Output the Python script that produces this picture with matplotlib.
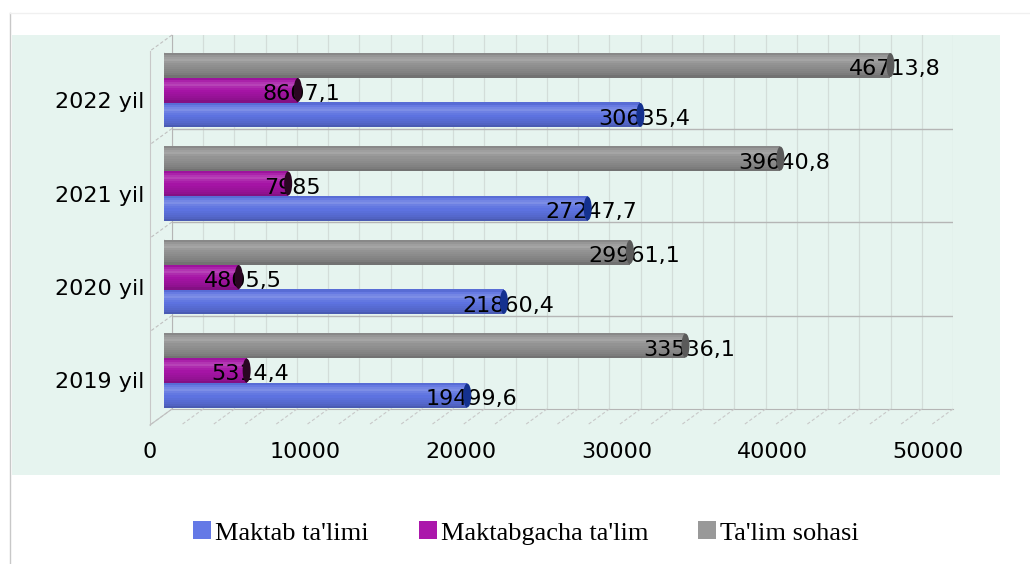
import matplotlib
matplotlib.use("Agg")
import matplotlib.pyplot as plt
import numpy as np
from matplotlib.lines import Line2D
from matplotlib.patches import Ellipse, Patch, Rectangle
from matplotlib.transforms import ScaledTranslation

# data (bottom to top)
years = ["2019 yil", "2020 yil", "2021 yil", "2022 yil"]
maktab = [19499.6, 21860.4, 27247.7, 30635.4]
maktabgacha = [5314.4, 4805.5, 7985.0, 8607.1]
talim = [33536.1, 29961.1, 39640.8, 46713.8]
series_names = ["Maktab ta'limi", "Maktabgacha ta'lim", "Ta'lim sohasi"]
x_ticks = [0, 10000, 20000, 30000, 40000, 50000]

bar_colors = ["#5d72e0", "#a514a5", "#8f8f8f"]
cap_colors = ["#14318f", "#2a0622", "#5a5a5a"]
legend_colors = ["#6479e6", "#ab17ab", "#999999"]
mint = "#e6f4ef"

W, H = 1030, 564
fig = plt.figure(figsize=(W / 100, H / 100), dpi=100)


def box(l, t, r, b):
    return [l / W, 1 - b / H, (r - l) / W, (b - t) / H]


def px_line(x0, y0, x1, y1, **kw):
    fig.add_artist(Line2D([x0 / W, x1 / W], [1 - y0 / H, 1 - y1 / H],
                          transform=fig.transFigure, **kw))


def shade(c, s):
    c = np.array(matplotlib.colors.to_rgb(c))
    if s >= 0:
        return tuple(c + (1 - c) * s)
    return tuple(c * (1 + s))


# background + frame
fig.add_artist(Rectangle((12 / W, 1 - 475 / H), 988 / W, 440 / H,
                         transform=fig.transFigure, facecolor=mint,
                         edgecolor="none", zorder=0))
px_line(10, 13, 10, 564, color="#c8c8c8", lw=1)
px_line(10, 13, 1030, 13, color="#f0f0f0", lw=1)

# back wall
ax_w = fig.add_axes(box(172, 35, 953, 409))
ax_w.set_facecolor("none")
ax_w.set_xlim(0, 50000)
ax_w.set_ylim(-0.5, 3.5)
ax_w.set_xticks(np.arange(0, 50001, 2000))
ax_w.set_yticks([])
ax_w.tick_params(length=0, labelbottom=False)
ax_w.grid(axis="x", color="#d3ddd9", lw=0.9)
for yb in [0.5, 1.5, 2.5]:
    ax_w.axhline(yb, color="#b5b5b5", lw=1)
for s in ["top", "right"]:
    ax_w.spines[s].set_visible(False)
for s in ["left", "bottom"]:
    ax_w.spines[s].set_color("#b5b5b5")

# side wall and floor (depth offset)
dx, dy = -22, 16
for yb in [35, 128.5, 222, 315.5]:
    px_line(172, yb, 172 + dx, yb + dy, color="#c0c0c0", lw=0.8, ls=(0, (3, 2)))
px_line(150, 51, 150, 425, color="#c8c8c8", lw=0.8)
for k in range(26):
    xb = 172 + k * 781 / 25
    px_line(xb, 409, xb + dx, 409 + dy, color="#c8c8c8", lw=0.8, ls=(0, (3, 2)))
px_line(150, 425, 172, 409, color="#c0c0c0", lw=0.8)

# bars
ax = fig.add_axes(box(164, 43.25, 941.5, 417.25))
ax.set_facecolor("none")
ax.set_xlim(0, 50000)
ax.set_ylim(-0.5, 3.5)
for s in ax.spines.values():
    s.set_visible(False)

h = 0.267
offsets = [-h, 0, h]
profile = [-0.05, 0.06, 0.14, 0.20, 0.10, 0.04, 0.0, -0.03, -0.06, -0.09, -0.13, -0.2]
n = len(profile)
px_per_unit = 777.5 / 50000
round_w = 12 / px_per_unit
cap_w = 8 / px_per_unit
y = np.arange(len(years))

for vals, col, cap, off in zip([maktab, maktabgacha, talim], bar_colors, cap_colors, offsets):
    for i, sv in enumerate(profile):
        yi = y + off + h / 2 - (i + 0.5) * h / n
        ax.barh(yi, vals, height=h / n * 1.02, left=0, color=shade(col, sv),
                linewidth=0, zorder=2)
    for yc, v in zip(y + off, vals):
        ax.add_patch(Ellipse((0, yc), round_w, h * 0.98, facecolor=shade(col, 0.02),
                             edgecolor="none", zorder=1))
        txt = f"{v:.1f}".replace(".", ",")
        if txt.endswith(",0"):
            txt = txt[:-2]
        ax.annotate(txt, xy=(v, yc), xytext=(4, -4), textcoords="offset pixels",
                    ha="center", va="center", fontsize=16, color="black", zorder=3)
        ax.add_patch(Ellipse((v, yc), cap_w, h * 0.96, facecolor=cap,
                             edgecolor="none", zorder=4))

ax.set_xticks(x_ticks)
ax.set_xticklabels([str(t) for t in x_ticks], fontsize=16)
ax.set_yticks(y)
ax.set_yticklabels(years, fontsize=16)
ax.tick_params(axis="x", length=0, pad=18)
ax.tick_params(axis="y", length=0, pad=14)
for lab in ax.get_xticklabels():
    lab.set_transform(lab.get_transform() + ScaledTranslation(-14 / 100, 0, fig.dpi_scale_trans))
for lab in ax.get_yticklabels():
    lab.set_transform(lab.get_transform() + ScaledTranslation(0, -10 / 100, fig.dpi_scale_trans))

handles = [Patch(facecolor=c, edgecolor="none") for c in legend_colors]
fig.legend(handles, series_names, loc="center", bbox_to_anchor=(526 / W, 1 - 533 / H),
           ncol=3, frameon=False, prop={"family": "Liberation Serif", "size": 19},
           handlelength=0.68, handleheight=0.68, handletextpad=0.15, columnspacing=1.9)

fig.savefig("out.png", dpi=100)
